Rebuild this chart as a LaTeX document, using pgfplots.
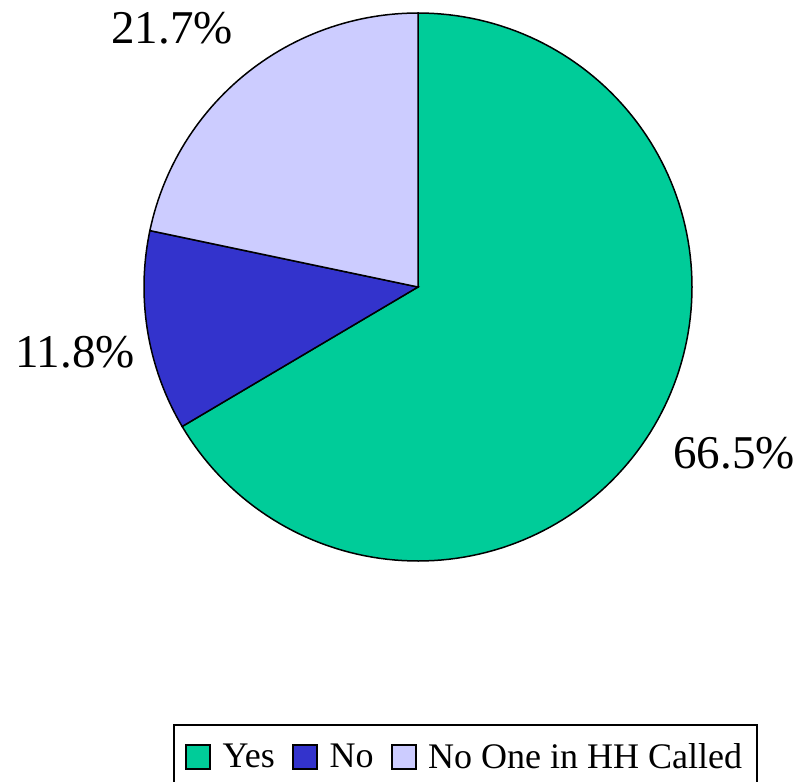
\documentclass[border=0pt]{standalone}
\usepackage{fontspec}
\setmainfont{Liberation Serif}
\usepackage{pgfplots}
\pgfplotsset{compat=1.18}
\definecolor{cYes}{HTML}{00CC99}
\definecolor{cNo}{HTML}{3333CC}
\definecolor{cNone}{HTML}{CCCCFF}
\begin{document}
\begin{tikzpicture}
\def\pYes{66.5}\def\pNo{11.8}\def\pNone{21.7}
\pgfmathsetmacro\aA{90}
\pgfmathsetmacro\aB{90-3.6*\pYes}
\pgfmathsetmacro\aC{\aB-3.6*\pNo}
\pgfmathsetmacro\aD{\aC-3.6*\pNone}
\begin{axis}[
  width=400.5pt, height=390.5pt, scale only axis,
  xmin=0, xmax=801, ymin=0, ymax=781, y dir=reverse,
  hide axis, clip=false,
  legend columns=-1,
  legend cell align=left,
  legend style={at={(axis cs:173,757)}, anchor=west, draw=black, line width=1pt,
    font=\fontsize{18}{21}\selectfont, inner xsep=5.5pt, inner ysep=7pt,
    cells={inner xsep=0pt, inner ysep=0pt},
    /tikz/every odd column/.append style={column sep=3.8pt},
    /tikz/every even column/.append style={column sep=6.5pt}},
  legend image code/.code={\draw[#1, line width=1pt] (0pt,-6pt) rectangle (12pt,6pt);},
]
\addplot[fill=cYes, draw=black, line width=0.75pt, domain=\aA:\aB, samples=150]
  ({418+274*cos(x)},{287-274*sin(x)}) -- (axis cs:418,287) -- cycle;
\addlegendentry{Yes}
\addplot[fill=cNo, draw=black, line width=0.75pt, domain=\aB:\aC, samples=40]
  ({418+274*cos(x)},{287-274*sin(x)}) -- (axis cs:418,287) -- cycle;
\addlegendentry{No}
\addplot[fill=cNone, draw=black, line width=0.75pt, domain=\aC:\aD, samples=60]
  ({418+274*cos(x)},{287-274*sin(x)}) -- (axis cs:418,287) -- cycle;
\addlegendentry{No One in HH Called}
\node[font=\fontsize{23.5}{27}\selectfont] at (axis cs:734,453) {\pYes\%};
\node[font=\fontsize{23.5}{27}\selectfont] at (axis cs:75,352) {\pNo\%};
\node[font=\fontsize{23.5}{27}\selectfont] at (axis cs:172,28) {\pNone\%};
\end{axis}
\pgfresetboundingbox
\path (current axis.south west) rectangle (current axis.north east);
\end{tikzpicture}
\end{document}
